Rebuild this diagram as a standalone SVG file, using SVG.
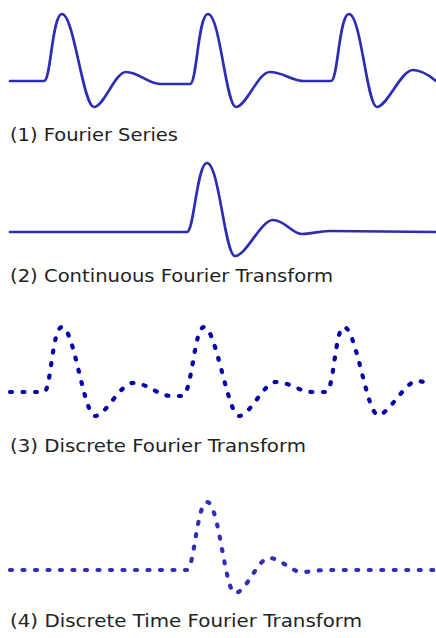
<svg xmlns="http://www.w3.org/2000/svg" width="436" height="638" viewBox="0 0 436 638">
<style>
.wave{fill:none;stroke:#2c2cb4;stroke-width:2.7;stroke-linejoin:round;stroke-linecap:round}
.dots{fill:none;stroke-width:4.2;stroke-linecap:round;stroke-dasharray:2 10.5}
.d3{stroke:#0000a8}
.d4{stroke:#2e2eb8}
.lbl{font-family:"DejaVu Sans","Liberation Sans",sans-serif;font-size:17px;fill:#222}
</style>
<rect width="436" height="638" fill="#fff"/>
<g id="panel1">
<path class="wave" d="M10 81 L44 81 C51 81 52 14 62 14 C74 14 83 107 94 107 C104 107 115 72 126 72 C139 72 148 84 160 84 L190 84 C197 84 198 14 208 14 C220 14 226 107 236 107 C246 107 258 72 270 72 C283 72 292 81 304 81 L331 81 C338 81 339 14 349 14 C361 14 367 107 377 107 C387 107 401 70 413 70 C422 70 430 76 436 81"/>
<text class="lbl" x="10" y="141" textLength="168" lengthAdjust="spacingAndGlyphs">(1) Fourier Series</text>
</g>
<g id="panel2">
<path class="wave" d="M10 232 L187 232 C194 232 197 163 207 163 C219 163 225 256 235 256 C246 256 261 220 273 220 C285 220 292 234 302 234 C312 234 318 231 330 231 L436 232"/>
<text class="lbl" x="10" y="282" textLength="323" lengthAdjust="spacingAndGlyphs">(2) Continuous Fourier Transform</text>
</g>
<g id="panel3">
<path class="dots d3" d="M10 392 L44 392 C51 392 52 327 62 327 C74 327 84 416 95 416 C106 416 120 383 133 383 C148 383 158 396 172 396 L182 396 C192 396 194 327 204 327 C216 327 228 416 239 416 C250 416 264 382 276 382 C290 382 300 392 312 392 L326 392 C334 392 335 327 344 327 C356 327 367 415 378 415 C389 415 405 381 417 381 C424 381 428 384 432 386"/>
<text class="lbl" x="10" y="452" textLength="296" lengthAdjust="spacingAndGlyphs">(3) Discrete Fourier Transform</text>
</g>
<g id="panel4">
<path class="dots d4" d="M10 570 L187 570 C194 570 197 502 207 502 C219 502 225 593 235 593 C246 593 258 558 269 558 C281 558 291 572 302 572 C310 572 318 570 326 570 L436 570"/>
<text class="lbl" x="10" y="627" textLength="352" lengthAdjust="spacingAndGlyphs">(4) Discrete Time Fourier Transform</text>
</g>
</svg>
